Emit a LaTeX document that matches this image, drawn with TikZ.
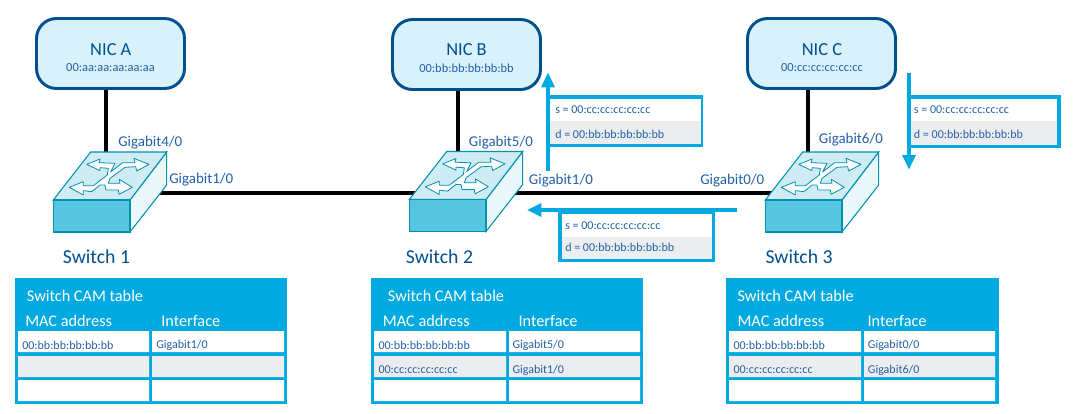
\documentclass[tikz,border=0pt]{standalone}
\usepackage{fontspec}
\setmainfont{Carlito}
\definecolor{cyanb}{HTML}{00A9E0}
\definecolor{nicfill}{HTML}{D9F1FB}
\definecolor{navy}{HTML}{00508F}
\definecolor{smalltxt}{HTML}{2260A8}
\definecolor{swfront}{HTML}{55C5E0}
\definecolor{swtop}{HTML}{CFECF5}
\definecolor{swright}{HTML}{EBF8FB}
\definecolor{swline}{HTML}{0090B0}
\definecolor{rowgray}{HTML}{ECEDEF}
\tikzset{
  x=.75pt,y=-.75pt,
  nicbox/.style={draw=navy,line width=2.2pt,fill=nicfill,rounded corners=15pt,minimum width=111pt,minimum height=52.5pt,inner sep=0pt},
  link/.style={line width=3pt,black},
  port/.style={anchor=west,inner sep=0pt,text=smalltxt,font=\fontsize{11.2}{12}\selectfont},
  swname/.style={anchor=west,inner sep=0pt,text=navy,font=\fontsize{14.8}{16}\selectfont},
  nicname/.style={inner sep=0pt,text=navy,font=\fontsize{13.8}{15}\selectfont},
  nicmac/.style={inner sep=0pt,text=smalltxt,font=\fontsize{9.3}{10}\selectfont},
  pkt/.style={anchor=west,inner sep=0pt,text=smalltxt,font=\fontsize{9}{10}\selectfont},
  cell/.style={anchor=west,inner sep=0pt,text=smalltxt,font=\fontsize{9}{10}\selectfont},
  thead/.style={anchor=west,inner sep=0pt,text=white,font=\fontsize{12.2}{13}\selectfont},
  flow/.style={line width=3pt,cyanb},
  flowhead/.style={fill=cyanb,draw=none},
  pics/netswitch/.style={code={
    \filldraw[draw=swline,line width=.8pt,fill=swright] (76.7,0) -- (113.4,-48) -- (113.4,-15) -- (76.7,32) -- cycle;
    \filldraw[draw=swline,line width=.8pt,fill=swtop] (0,0) -- (37.4,-48) -- (113.4,-48) -- (76.7,0) -- cycle;
    \filldraw[draw=swline,line width=.8pt,fill=swfront] (0,0) rectangle (76.7,32);
    \begin{scope}[x=.25pt,y=-.25pt,xshift=5.03pt,yshift=37.5pt]
      \filldraw[draw=swline,line width=.6pt,fill=white,line join=round]
        (80,43) -- (120,27) -- (117,38) -- (165,40) -- (152,66) -- (188,38) -- (225,38) -- (222,25) -- (267,43)
        -- (230,63) -- (227,50) -- (195,52) -- (150,85) -- (145,100) -- (180,100) -- (178,88) -- (217,112)
        -- (177,133) -- (175,120) -- (138,120) -- (135,105) -- (120,105) -- (95,125) -- (70,122) -- (70,135) -- (28,112)
        -- (70,95) -- (70,107) -- (100,107) -- (142,75) -- (145,55) -- (120,53) -- (120,62) -- cycle;
    \end{scope}
  }},
}
\newcommand{\camtable}[7]{% name, outer l, outer r, c1 l, c1 r, c2 l, c2 r
  \fill[cyanb] (#2,278) rectangle (#3,404);
  \coordinate (#1tl) at (#2,278);
  \fill[white] (#4,331) rectangle (#5,352) (#6,331) rectangle (#7,352);
  \fill[rowgray] (#4,356) rectangle (#5,377) (#6,356) rectangle (#7,377);
  \fill[white] (#4,380) rectangle (#5,401) (#6,380) rectangle (#7,401);
}
\newcommand{\pktbox}[8]{% outer l,t,r,b inner l,t,r,b
  \fill[cyanb] (#1,#2) rectangle (#3,#4);
  \fill[white] (#5,#6) rectangle (#7,#8);
}
\begin{document}
\begin{tikzpicture}
\useasboundingbox (0,0) rectangle (1079,414);
% NIC boxes
\node[nicbox] (nica) at (110.5,53.5) {};
\node[nicbox] (nicb) at (466.5,54.5) {};
\node[nicbox] (nicc) at (821.5,53.5) {};
\node[nicname] (nicat) at (110.8,50) {NIC A};
\node[nicname] (nicbt) at (466.5,50) {NIC B};
\node[nicname] (nicct) at (822,50) {NIC C};
\node[nicmac] (nicam) at (110.5,68) {00:aa:aa:aa:aa:aa};
\node[nicmac] (nicbm) at (466.5,68) {00:bb:bb:bb:bb:bb};
\node[nicmac] (niccm) at (822,68) {00:cc:cc:cc:cc:cc};
% connection points
\coordinate (sw1n) at (106,156);
\coordinate (sw2n) at (457.7,156);
\coordinate (sw3n) at (808,156);
\coordinate (sw1e) at (150,192.7);
\coordinate (sw2w) at (425,192.7);
\coordinate (sw2e) at (500,192.7);
\coordinate (sw3w) at (785,192.7);
\draw[link] (sw1n |- nica.south) -- (sw1n);
\draw[link] (sw2n |- nicb.south) -- (sw2n);
\draw[link] (sw3n |- nicc.south) -- (sw3n);
\draw[link] (sw1e) -- (sw2w);
\draw[link] (sw2e) -- (sw3w);
% switches
\pic (sw1) at (53.3,200) {netswitch};
\pic (sw2) at (409.3,199.5) {netswitch};
\pic (sw3) at (765.3,200) {netswitch};
% port labels
\node[port] (p41) at (118,143) {Gigabit4/0};
\node[port] (p11) at (169,180) {Gigabit1/0};
\node[port] (p52) at (468.7,143) {Gigabit5/0};
\node[port] (p12) at (528.7,181) {Gigabit1/0};
\node[port] (p03) at (700,181) {Gigabit0/0};
\node[port] (p63) at (818.7,139.5) {Gigabit6/0};
% switch names
\node[swname] (n1) at (62.7,256.7) {Switch 1};
\node[swname] (n2) at (405.7,256.7) {Switch 2};
\node[swname] (n3) at (765.3,256.7) {Switch 3};
% flow arrow up (switch 2)
\coordinate (fa1s) at (548,171);
\coordinate (fa1e) at (548,85);
\coordinate (fa1t) at (548,72.7);
\draw[flow] (fa1s) -- (fa1e);
\fill[flowhead] (fa1t) -- (541,87.3) -- (555,87.3) -- cycle;
\pktbox{546}{95.3}{703.3}{146.7}{550}{98.7}{700.7}{143.7}
\fill[rowgray] (550,121) rectangle (700.7,143.7);
\node[pkt] (u1) at (555,110) {s = 00:cc:cc:cc:cc:cc};
\node[pkt] (u2) at (555,134) {d = 00:bb:bb:bb:bb:bb};
% flow arrow left
\coordinate (fb1s) at (737,210);
\coordinate (fb1e) at (540,210);
\draw[flow] (fb1s) -- (fb1e);
\fill[flowhead] (527.3,210) -- (541.3,203) -- (541.3,217) -- cycle;
\pktbox{558.3}{210}{715}{262}{561.7}{214.3}{711.7}{258.7}
\fill[rowgray] (561.7,236.7) rectangle (711.7,258.7);
\node[pkt] (l1) at (565,226) {s = 00:cc:cc:cc:cc:cc};
\node[pkt] (l2) at (565,247.7) {d = 00:bb:bb:bb:bb:bb};
% flow arrow down
\coordinate (fc1s) at (909,73.3);
\coordinate (fc1e) at (909,157);
\draw[flow] (fc1s) -- (fc1e);
\fill[flowhead] (909,169.3) -- (902,155) -- (916,155) -- cycle;
\pktbox{907}{95.3}{1060.7}{147.7}{911}{99.3}{1057.3}{144.7}
\fill[rowgray] (911,121) rectangle (1057.3,144.7);
\node[pkt] (d1) at (913.7,110) {s = 00:cc:cc:cc:cc:cc};
\node[pkt] (d2) at (913.7,134) {d = 00:bb:bb:bb:bb:bb};
% CAM tables
\camtable{ta}{15}{286.7}{18}{149}{152}{284}{}
\camtable{tb}{371}{643}{374}{506}{509}{640}{}
\camtable{tc}{726}{999}{729}{861}{864}{995}{}
\node[thead] (ta0) at (26.7,295.7) {Switch CAM table};
\node[thead] (ta1) at (25,320.7) {MAC address};
\node[thead] (ta2) at (161,320.7) {Interface};
\node[cell] (ta3) at (22,345) {00:bb:bb:bb:bb:bb};
\node[cell] (ta4) at (156,345) {Gigabit1/0};
\node[thead] (tb0) at (387.7,295.7) {Switch CAM table};
\node[thead] (tb1) at (382.7,320.7) {MAC address};
\node[thead] (tb2) at (518.3,320.7) {Interface};
\node[cell] (tb3) at (378.3,345) {00:bb:bb:bb:bb:bb};
\node[cell] (tb4) at (512.3,345) {Gigabit5/0};
\node[cell] (tb5) at (378.3,370) {00:cc:cc:cc:cc:cc};
\node[cell] (tb6) at (512.3,370) {Gigabit1/0};
\node[thead] (tc0) at (737.3,295.7) {Switch CAM table};
\node[thead] (tc1) at (737.3,320.7) {MAC address};
\node[thead] (tc2) at (867.3,320.7) {Interface};
\node[cell] (tc3) at (733.3,345) {00:bb:bb:bb:bb:bb};
\node[cell] (tc4) at (867.7,345) {Gigabit0/0};
\node[cell] (tc5) at (733.3,370) {00:cc:cc:cc:cc:cc};
\node[cell] (tc6) at (867.7,370) {Gigabit6/0};
\end{tikzpicture}
\end{document}
